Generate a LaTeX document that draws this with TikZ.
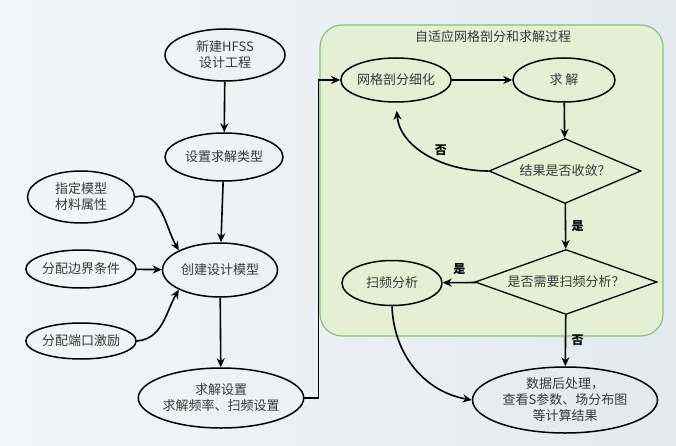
\documentclass[tikz,border=0pt]{standalone}
\usepackage{fontspec}
\newfontfamily\cjk{Noto Sans CJK SC}
\usetikzlibrary{shapes.geometric, arrows.meta, positioning}
\definecolor{BGlight}{HTML}{F3F6F6}
\definecolor{BGblue}{HTML}{E2EAEE}
\definecolor{BOXgreen}{HTML}{E3F0D3}
\definecolor{BOXedge}{HTML}{86C27A}
\definecolor{TXTgray}{HTML}{383838}

\begin{document}
\begin{tikzpicture}[x=1pt, y=1pt,
      font=\cjk\fontsize{13}{16}\selectfont, text=TXTgray,
      oval/.style={ellipse, draw=black, line width=1.5pt, inner sep=0pt, align=center},
      choice/.style={diamond, draw=black, line width=1.3pt, inner sep=1pt, minimum height=65pt},
      flow/.style={-{Stealth[length=9pt, width=8pt]}, line width=1.6pt, black},
      tag/.style={font=\cjk\fontsize{12}{14}\selectfont\bfseries}]
      \useasboundingbox (0,0) rectangle (676,445);
      % Background
      \shade[left color=BGlight, right color=BGblue] (0,0) rectangle (676,445);
      % Adaptive meshing box
      \draw[BOXedge, line width=1.2pt, fill=BOXgreen, rounded corners=22pt]
         (320,109) rectangle (663,420);
      \node (title) at (493,408) {自适应网格剖分和求解过程};
      % Main column
      \node[oval, minimum width=120pt, minimum height=52pt] (new) at (225,390) {新建HFSS\\设计工程};
      \node[oval, minimum width=118pt, minimum height=48pt] (type) at (224,288) {设置求解类型};
      \node[oval, minimum width=115pt, minimum height=54pt] (model) at (220,175) {创建设计模型};
      \node[oval, minimum width=138pt, minimum height=60pt] (setup) at (221,47) {求解设置\\求解频率、扫频设置};
      % Inputs to the model
      \node[oval, minimum width=107pt, minimum height=52pt] (mat) at (81,248) {指定模型\\材料属性};
      \node[oval, minimum width=104pt, minimum height=38pt] (bound) at (81,176) {分配边界条件};
      \node[oval, minimum width=104pt, minimum height=36pt] (port) at (81,104) {分配端口激励};
      % Adaptive loop
      \node[oval, minimum width=102pt, minimum height=44pt] (mesh) at (396,365) {网格剖分细化};
      \node[oval, minimum width=102pt, minimum height=44pt] (solve) at (564,365) {求\ 解};
      \node[choice, aspect=2.35, minimum width=152pt] (conv) at (565,274) {结果是否收敛？};
      \node[choice, aspect=2.8, minimum width=182pt] (sweep) at (566,163) {是否需要扫频分析？};
      \node[oval, minimum width=100pt, minimum height=45pt] (sweepan) at (392,162) {扫频分析};
      % Post processing
      \node[oval, minimum width=185pt, minimum height=66pt] (post) at (565,45)
         {数据后处理，\\查看S参数、场分布图\\等计算结果};
      % Connectors
      \draw[flow] (new) -- (type);
      \draw[flow] (type) -- (model);
      \draw[flow] (mat.east) to[out=15, in=120] (model.north west);
      \draw[flow] (bound) -- (model);
      \draw[flow] (port.east) to[out=5, in=-120] (model.south west);
      \draw[flow] (model) -- (setup);
      \draw[flow] (setup.east) -- ++(14,0) |- (mesh.west);
      \draw[flow] (mesh) -- (solve);
      \draw[flow] (solve) -- (conv);
      \draw[flow, shorten >=8pt] (conv.west) to[out=180, in=-85]
         node[tag, pos=0.5, above right=-6pt and 4pt] {否} (mesh.south);
      \draw[flow] (conv) -- node[tag, right=2pt] {是} (sweep);
      \draw[flow] (sweep) -- node[tag, above=4pt] {是} (sweepan);
      \draw[flow] (sweep) -- node[tag, right=2pt] {否} (post);
      \draw[flow] (sweepan.south) to[out=-88, in=170] (post.west);
   \end{tikzpicture}
\end{document}
